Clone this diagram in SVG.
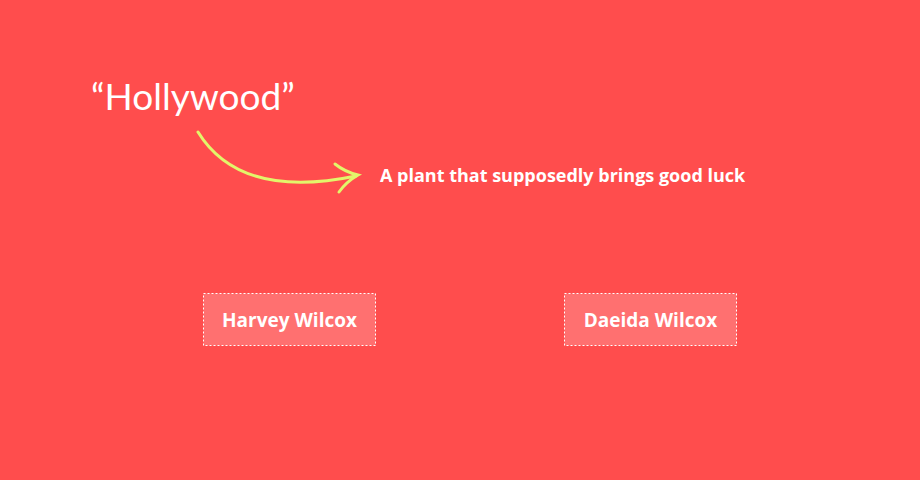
<svg xmlns="http://www.w3.org/2000/svg" width="920" height="480" viewBox="0 0 920 480">
<style>
.box{fill:#ff7070;stroke:#fff;stroke-width:1;stroke-dasharray:2 2}
.lbl{font-family:"Open Sans","Liberation Sans",sans-serif;font-weight:bold;font-size:19px;fill:#fff;text-anchor:middle}
.arr{fill:none;stroke:#e3f56a;stroke-width:3;stroke-linecap:round}
</style>
<rect width="920" height="480" fill="#ff4d4d"/>
<g id="title"><text x="91" y="110" font-family="Lato,'Open Sans',sans-serif" font-size="37" fill="#fff">“Hollywood”</text></g>
<g id="meaning"><text x="380" y="182" font-family="'Open Sans','Liberation Sans',sans-serif" font-weight="bold" font-size="18" fill="#fff">A plant that supposedly brings good luck</text></g>
<g id="connectors">
<path class="arr" d="M198,132 Q240,200 356,176"/>
<path class="arr" d="M335,164 Q345,172 358,175 Q346,182 339,192"/>
</g>
<g id="harvey"><rect class="box" x="203.5" y="293.5" width="172" height="52"/><text class="lbl" x="289.5" y="327">Harvey Wilcox</text></g>
<g id="daeida"><rect class="box" x="564.5" y="293.5" width="172" height="52"/><text class="lbl" x="650.5" y="327">Daeida Wilcox</text></g>
</svg>
